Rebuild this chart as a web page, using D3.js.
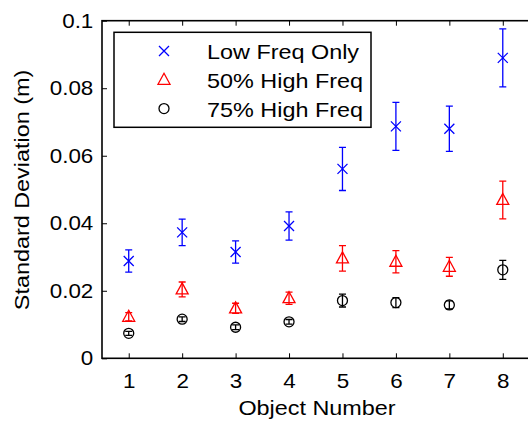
<!DOCTYPE html>
<html>
<head>
<meta charset="utf-8">
<script src="https://cdn.jsdelivr.net/npm/d3@7"></script>
<style>
  html, body { margin: 0; padding: 0; background: #fff; }
  svg { display: block; font-family: "Liberation Sans", Arial, Helvetica, sans-serif; }
</style>
</head>
<body>
<svg id="chart" width="528" height="421"></svg>
<script>
const objects = [1, 2, 3, 4, 5, 6, 7, 8];
const yTicks = [0, 0.02, 0.04, 0.06, 0.08, 0.1];

const lowFreqMean = [0.0288, 0.0373, 0.0315, 0.0392, 0.0561, 0.0687, 0.0680, 0.0890];
const lowFreqErr = [0.0033, 0.0039, 0.0033, 0.0042, 0.0064, 0.0071, 0.0067, 0.0086];

const high50Mean = [0.0123, 0.0204, 0.0148, 0.0178, 0.0296, 0.0286, 0.0271, 0.0469];
const high50Err = [0.0012, 0.0022, 0.0015, 0.0018, 0.0038, 0.0033, 0.0028, 0.0056];

const high75Mean = [0.0074, 0.0116, 0.0092, 0.0108, 0.0171, 0.0165, 0.0158, 0.0262];
const high75Err = [0.0006, 0.0007, 0.0007, 0.0007, 0.0019, 0.0015, 0.0012, 0.0028];

const seriesNames = ['Low Freq Only', '50% High Freq', '75% High Freq'];

const series = [
  { name: seriesNames[0], mean: lowFreqMean, err: lowFreqErr, color: '#0000ff', marker: 'x' },
  { name: seriesNames[1], mean: high50Mean, err: high50Err, color: '#ff0000', marker: 'triangle' },
  { name: seriesNames[2], mean: high75Mean, err: high75Err, color: '#000000', marker: 'circle' }
];

const box = { left: 102, right: 529.5, top: 20.7, bottom: 358.3 };
const fontSize = 20;
// the original glyphs are wider than Liberation Sans, so stretch text along its baseline
const tickStretch = 1.12;
const labelStretch = 1.17;

const svg = d3.select('#chart');

const x = d3.scaleLinear().domain([0.5, 8.5]).range([box.left, box.right]);
const y = d3.scaleLinear().domain([0, 0.1]).range([box.bottom, box.top]);

function drawMarker(g, type, color) {
  if (type === 'x') {
    g.append('path').attr('d', 'M-5,-5L5,5M-5,5L5,-5')
      .attr('stroke', color).attr('stroke-width', 1.3).attr('fill', 'none');
  } else if (type === 'triangle') {
    g.append('path').attr('d', 'M0,-6.5L6,4.5L-6,4.5Z')
      .attr('stroke', color).attr('stroke-width', 1.3).attr('fill', 'none');
  } else {
    g.append('circle').attr('r', 5)
      .attr('stroke', color).attr('stroke-width', 1.3).attr('fill', 'none');
  }
}

// axes
const fmt = (v) => (v === 0 ? '0' : String(+v.toFixed(2)));

svg.append('g')
  .attr('class', 'x-axis')
  .attr('transform', `translate(0,${box.bottom})`)
  .call(d3.axisBottom(x).tickValues(objects).tickSizeInner(-5).tickSizeOuter(0).tickPadding(15.5));

svg.append('g')
  .attr('transform', `translate(0,${box.top})`)
  .call(d3.axisTop(x).tickValues(objects).tickSizeInner(-5).tickSizeOuter(0).tickFormat(''));

svg.append('g')
  .attr('class', 'y-axis')
  .attr('transform', `translate(${box.left},0)`)
  .call(d3.axisLeft(y).tickValues(yTicks).tickSizeInner(-5).tickSizeOuter(0).tickFormat(fmt));

svg.selectAll('.domain').remove();
svg.selectAll('.tick line').attr('stroke', '#000').attr('stroke-width', 1);
svg.selectAll('.tick text')
  .attr('fill', '#000')
  .style('font-size', `${fontSize}px`)
  .style('font-family', '"Liberation Sans", Arial, sans-serif')
  .attr('transform', `scale(${tickStretch},1)`);
svg.selectAll('.y-axis .tick text').attr('x', -8.7 / tickStretch);

// plot box
svg.append('rect')
  .attr('x', box.left).attr('y', box.top)
  .attr('width', box.right - box.left).attr('height', box.bottom - box.top)
  .attr('fill', 'none').attr('stroke', '#000').attr('stroke-width', 1.6);

// axis labels
svg.append('text')
  .attr('transform', `translate(317,415) scale(${labelStretch},1)`)
  .attr('text-anchor', 'middle')
  .style('font-size', `${fontSize}px`)
  .text('Object Number');

svg.append('text')
  .attr('transform', `translate(29,190) rotate(-90) scale(${labelStretch},1)`)
  .attr('text-anchor', 'middle')
  .style('font-size', `${fontSize}px`)
  .text('Standard Deviation (m)');

// data with error bars
const capHalf = 3.5;
series.forEach((s) => {
  const g = svg.append('g');
  objects.forEach((o, i) => {
    const cx = x(o);
    const lo = y(s.mean[i] - s.err[i]);
    const hi = y(s.mean[i] + s.err[i]);
    g.append('path')
      .attr('d', `M${cx},${lo}L${cx},${hi}M${cx - capHalf},${lo}L${cx + capHalf},${lo}M${cx - capHalf},${hi}L${cx + capHalf},${hi}`)
      .attr('stroke', s.color).attr('stroke-width', 1.3).attr('fill', 'none');
    const m = g.append('g').attr('transform', `translate(${cx},${y(s.mean[i])})`);
    drawMarker(m, s.marker, s.color);
  });
});

// legend
const legend = svg.append('g');
legend.append('rect')
  .attr('x', 114).attr('y', 32.3).attr('width', 257).attr('height', 95)
  .attr('fill', '#fff').attr('stroke', '#000').attr('stroke-width', 1.5);

series.forEach((s, i) => {
  const row = legend.append('g').attr('transform', `translate(0,${51 + i * 28.8})`);
  const m = row.append('g').attr('transform', 'translate(164,0)');
  drawMarker(m, s.marker, s.color);
  row.append('text')
    .attr('transform', `translate(207,8.3) scale(${labelStretch},1)`)
    .style('font-size', `${fontSize}px`)
    .text(s.name);
});
</script>
</body>
</html>
